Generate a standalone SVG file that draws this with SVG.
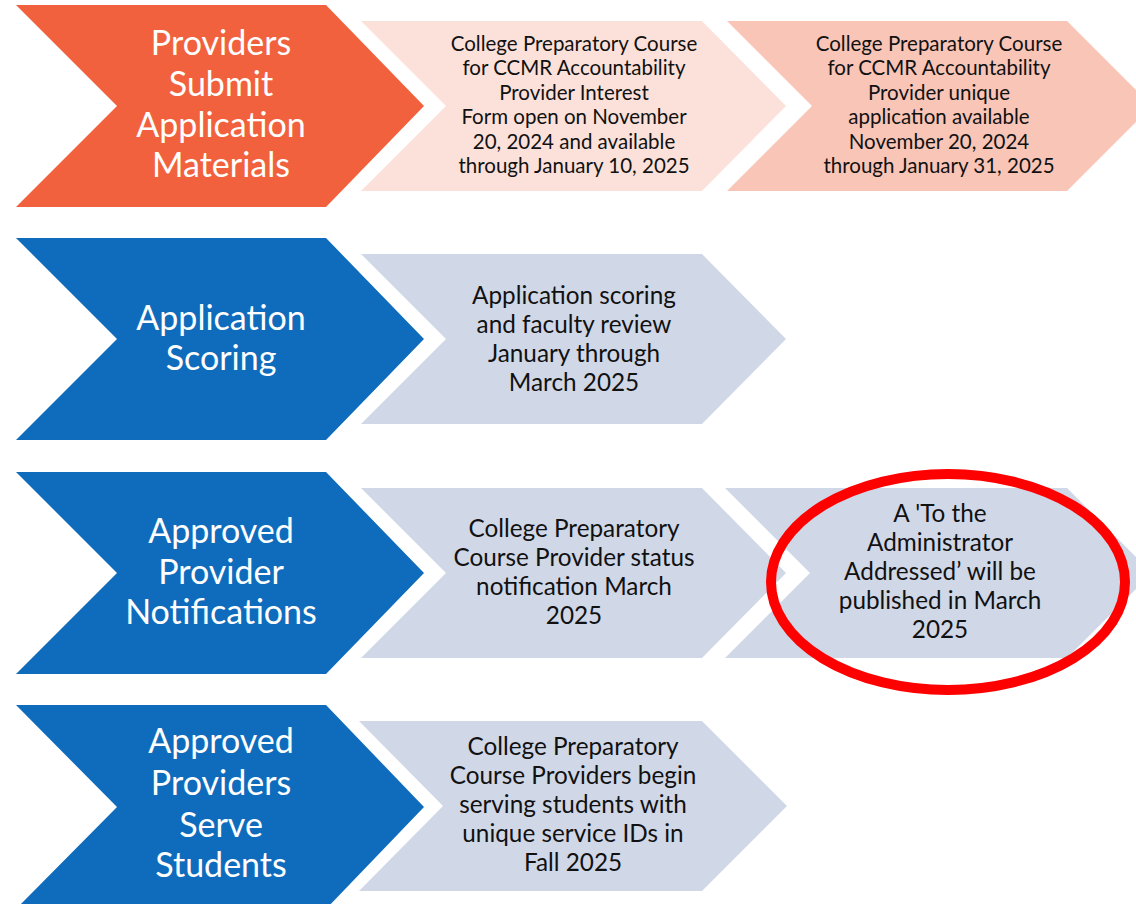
<svg xmlns="http://www.w3.org/2000/svg" width="1136" height="904" viewBox="0 0 1136 904">
<style>
.big{fill:#FFFFFF;font-family:Lato,"Liberation Sans",sans-serif;font-size:34px;text-anchor:middle}
.sm{fill:#111111;font-family:Lato,"Liberation Sans",sans-serif;font-size:20.5px;text-anchor:middle}
.md{fill:#111111;font-family:Lato,"Liberation Sans",sans-serif;font-size:24.3px;text-anchor:middle}
.orange{fill:#F2613D}
.blue{fill:#0F6CBD}
.pink1{fill:#FCE1DA}
.pink2{fill:#F9C5B7}
.gray{fill:#D0D7E7}
</style>
<rect width="1136" height="904" fill="#FFFFFF"/>

<g id="row1-main">
<polygon class="orange" points="16,5 326,5 424,106 326,207 16,207 117,106"/>
<text class="big"><tspan x="221" y="55">Providers</tspan><tspan x="221" y="96">Submit</tspan><tspan x="221" y="137">Application</tspan><tspan x="221" y="177">Materials</tspan></text>
</g>
<g id="row1-step1">
<polygon class="pink1" points="361,21 702,21 786,106 702,191 361,191 446,106"/>
<text class="sm"><tspan x="574" y="51">College Preparatory Course</tspan><tspan x="574" y="75">for CCMR Accountability</tspan><tspan x="574" y="100">Provider Interest</tspan><tspan x="574" y="124">Form open on November</tspan><tspan x="574" y="149">20, 2024 and available</tspan><tspan x="574" y="173">through January 10, 2025</tspan></text>
</g>
<g id="row1-step2">
<polygon class="pink2" points="727,21 1067,21 1152,106 1067,191 727,191 812,106"/>
<text class="sm"><tspan x="939" y="51">College Preparatory Course</tspan><tspan x="939" y="75">for CCMR Accountability</tspan><tspan x="939" y="100">Provider unique</tspan><tspan x="939" y="124">application available</tspan><tspan x="939" y="149">November 20, 2024</tspan><tspan x="939" y="173">through January 31, 2025</tspan></text>
</g>

<g id="row2-main">
<polygon class="blue" points="16,238 326,238 424,339 326,440 16,440 117,339"/>
<text class="big"><tspan x="221" y="330">Application</tspan><tspan x="221" y="370">Scoring</tspan></text>
</g>
<g id="row2-step1">
<polygon class="gray" points="361,254 702,254 786,339 702,424 361,424 446,339"/>
<text class="md"><tspan x="574" y="304">Application scoring</tspan><tspan x="574" y="333">and faculty review</tspan><tspan x="574" y="362">January through</tspan><tspan x="574" y="391">March 2025</tspan></text>
</g>

<g id="row3-main">
<polygon class="blue" points="16,472 326,472 424,573 326,674 16,674 117,573"/>
<text class="big"><tspan x="221" y="543">Approved</tspan><tspan x="221" y="584">Provider</tspan><tspan x="221" y="624">Notifications</tspan></text>
</g>
<g id="row3-step1">
<polygon class="gray" points="361,488 702,488 786,573 702,658 361,658 446,573"/>
<text class="md"><tspan x="574" y="537">College Preparatory</tspan><tspan x="574" y="566">Course Provider status</tspan><tspan x="574" y="595">notification March</tspan><tspan x="574" y="624">2025</tspan></text>
</g>
<g id="row3-step2">
<polygon class="gray" points="725,488 1067,488 1152,573 1067,658 725,658 810,573"/>
<text class="md"><tspan x="940" y="522">A 'To the</tspan><tspan x="940" y="551">Administrator</tspan><tspan x="940" y="580">Addressed’ will be</tspan><tspan x="940" y="609">published in March</tspan><tspan x="940" y="638">2025</tspan></text>
</g>
<g id="highlight">
<ellipse cx="948" cy="582" rx="177" ry="108" fill="none" stroke="#FF0000" stroke-width="10"/>
</g>

<g id="row4-main">
<polygon class="blue" points="16,705 326,705 424,807 326,909 16,909 117,807"/>
<text class="big"><tspan x="221" y="753">Approved</tspan><tspan x="221" y="795">Providers</tspan><tspan x="221" y="837">Serve</tspan><tspan x="221" y="877">Students</tspan></text>
</g>
<g id="row4-step1">
<polygon class="gray" points="359,721 702,721 787,806 702,891 359,891 443,806"/>
<text class="md"><tspan x="573" y="755">College Preparatory</tspan><tspan x="573" y="784">Course Providers begin</tspan><tspan x="573" y="813">serving students with</tspan><tspan x="573" y="842">unique service IDs in</tspan><tspan x="573" y="871">Fall 2025</tspan></text>
</g>

<g id="connectors"></g>
</svg>
